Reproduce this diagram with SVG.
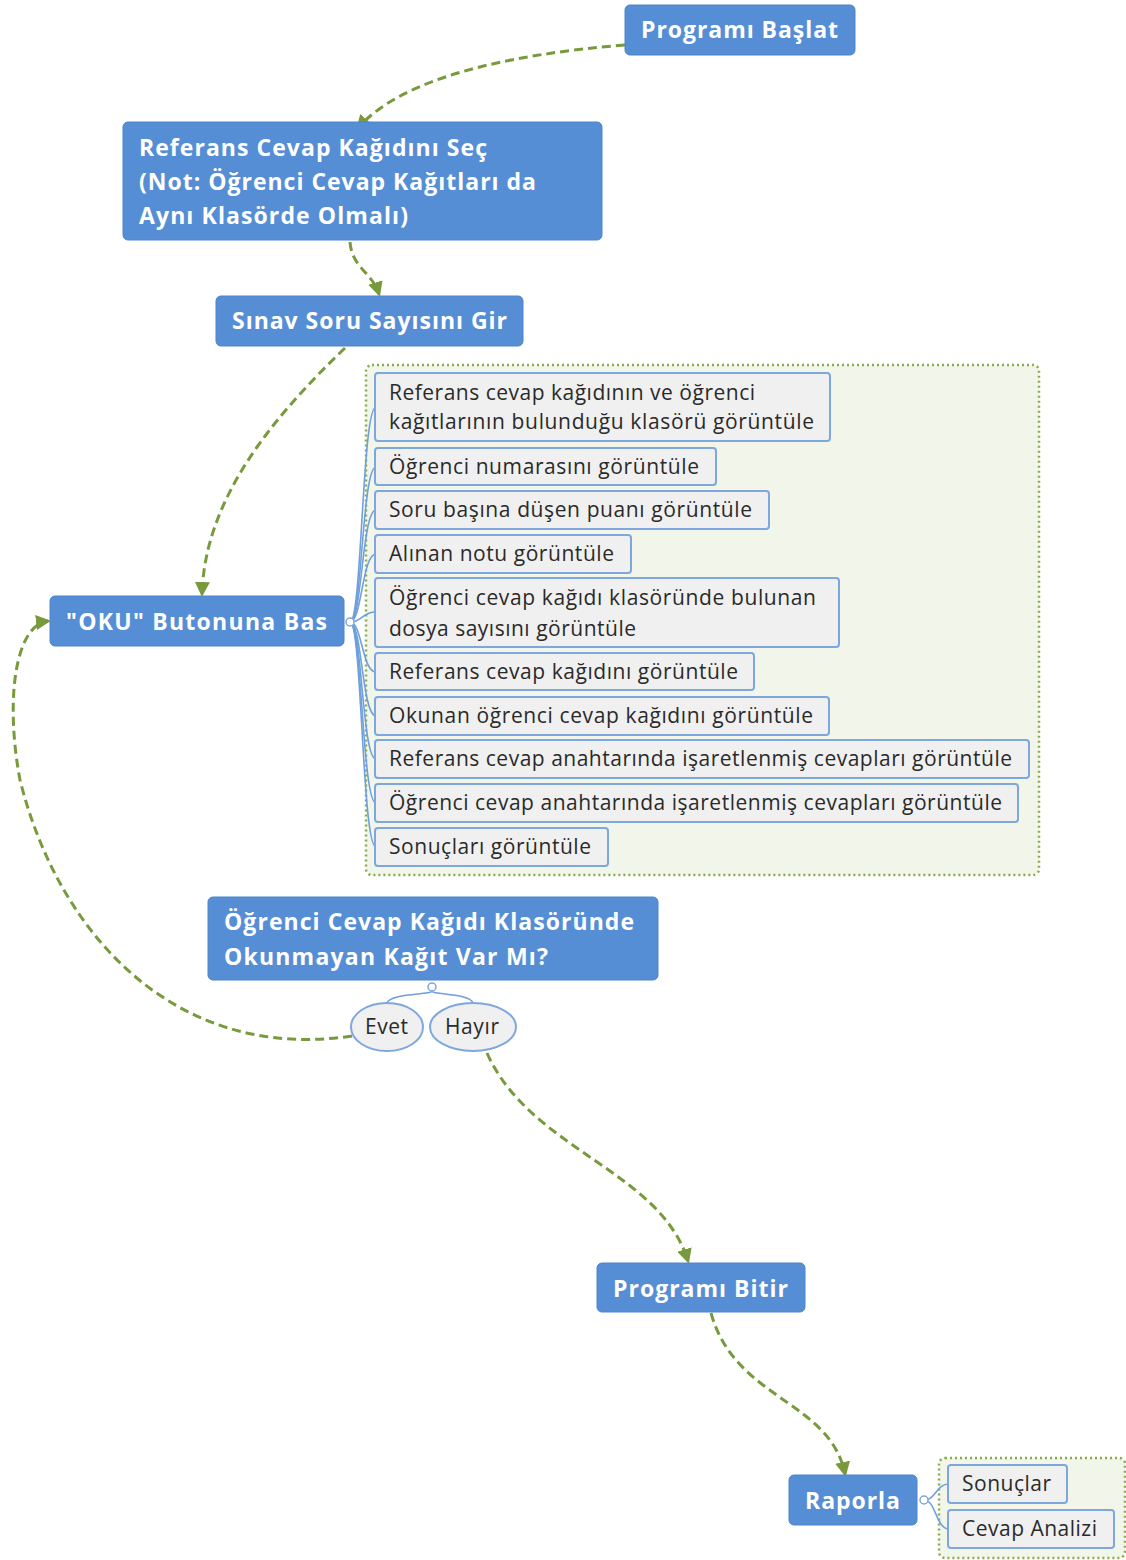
<svg xmlns="http://www.w3.org/2000/svg" width="1126" height="1560" viewBox="0 0 1126 1560">
<defs>
<style>
.main{fill:#568ed6;stroke:#4c84cc;stroke-width:1}
.mt{font-family:"Open Sans","Liberation Sans",sans-serif;font-weight:bold;font-size:23px;fill:#ffffff}
.sub{fill:#f0f0f0;stroke:#7ea7de;stroke-width:2}
.st{font-family:"Open Sans","Liberation Sans",sans-serif;font-size:21px;fill:#2a2a2a}
.box{fill:#f1f5ea;stroke:#8aab4c;stroke-width:2.5;stroke-dasharray:2,3}
.br{fill:none;stroke:#6f9fdc;stroke-width:1.6}
.con{fill:none;stroke:#789a3c;stroke-width:3;stroke-dasharray:9,5}
.knob{fill:#ffffff;stroke:#7ea7de;stroke-width:1.5}
</style>
<marker id="ah" viewBox="0 0 10 10" refX="8" refY="5" markerWidth="5" markerHeight="5" orient="auto" markerUnits="strokeWidth">
<path d="M0,0 L10,5 L0,10 z" fill="#789a3c"/>
</marker>
</defs>

<rect x="0" y="0" width="1126" height="1560" fill="#ffffff"/>

<g id="group-containers">
<rect class="box" x="366" y="365" width="673" height="510" rx="6"/>
<rect class="box" x="939" y="1458" width="186" height="100" rx="6"/>
</g>

<g id="branches">
<path class="br" d="M350,622 C362,622 362,407 376,407"/>
<path class="br" d="M350,622 C362,622 362,467 376,467"/>
<path class="br" d="M350,622 C362,622 362,510 376,510"/>
<path class="br" d="M350,622 C362,622 362,554 376,554"/>
<path class="br" d="M350,622 C362,622 362,612 376,612"/>
<path class="br" d="M350,622 C362,622 362,672 376,672"/>
<path class="br" d="M350,622 C362,622 362,716 376,716"/>
<path class="br" d="M350,622 C362,622 362,759 376,759"/>
<path class="br" d="M350,622 C362,622 362,803 376,803"/>
<path class="br" d="M350,622 C362,622 362,847 376,847"/>
<circle class="knob" cx="350" cy="622" r="4"/>
<path class="br" d="M432,991 C432,995 390,993 387,1003"/>
<path class="br" d="M432,991 C432,995 470,993 473,1003"/>
<circle class="knob" cx="432" cy="987" r="4"/>
<path class="br" d="M924,1500 C936,1500 936,1484 949,1484"/>
<path class="br" d="M924,1500 C936,1500 936,1529 949,1529"/>
<circle class="knob" cx="924" cy="1500" r="4"/>
</g>

<g id="connectors">
<path class="con" marker-end="url(#ah)" d="M625,45 C500,55 400,80 358,128"/>
<path class="con" marker-end="url(#ah)" d="M350,242 C352,268 372,272 379,294"/>
<path class="con" marker-end="url(#ah)" d="M345,348 C270,420 205,500 202,594"/>
<path class="con" marker-end="url(#ah)" d="M352,1036 C180,1062 60,940 20,780 C5,700 15,625 48,621"/>
<path class="con" marker-end="url(#ah)" d="M487,1053 C530,1150 660,1170 688,1261"/>
<path class="con" marker-end="url(#ah)" d="M711,1313 C735,1400 830,1400 845,1474"/>
</g>

<g id="node-start">
<rect class="main" x="625" y="5" width="230" height="50" rx="5"/>
<text class="mt" x="641" y="38" textLength="197" lengthAdjust="spacing">Programı Başlat</text>
</g>

<g id="node-referans">
<rect class="main" x="123" y="122" width="479" height="118" rx="5"/>
<text class="mt" x="139" y="156" textLength="348" lengthAdjust="spacing">Referans Cevap Kağıdını Seç</text>
<text class="mt" x="139" y="190" textLength="397" lengthAdjust="spacing">(Not: Öğrenci Cevap Kağıtları da</text>
<text class="mt" x="139" y="224" textLength="269" lengthAdjust="spacing">Aynı Klasörde Olmalı)</text>
</g>

<g id="node-sinav">
<rect class="main" x="216" y="296" width="307" height="50" rx="5"/>
<text class="mt" x="232" y="329" textLength="275" lengthAdjust="spacing">Sınav Soru Sayısını Gir</text>
</g>

<g id="node-oku">
<rect class="main" x="50" y="596" width="294" height="50" rx="5"/>
<text class="mt" x="66" y="630" textLength="261" lengthAdjust="spacing">"OKU" Butonuna Bas</text>
</g>

<g id="node-sub1">
<rect class="sub" x="375" y="373" width="455" height="68" rx="3"/>
<text class="st" x="389" y="400" textLength="366" lengthAdjust="spacing">Referans cevap kağıdının ve öğrenci</text>
<text class="st" x="389" y="429" textLength="425" lengthAdjust="spacing">kağıtlarının bulunduğu klasörü görüntüle</text>
</g>
<g id="node-sub2">
<rect class="sub" x="375" y="448" width="341" height="37" rx="3"/>
<text class="st" x="389" y="474" textLength="310" lengthAdjust="spacing">Öğrenci numarasını görüntüle</text>
</g>
<g id="node-sub3">
<rect class="sub" x="375" y="491" width="394" height="38" rx="3"/>
<text class="st" x="389" y="517" textLength="363" lengthAdjust="spacing">Soru başına düşen puanı görüntüle</text>
</g>
<g id="node-sub4">
<rect class="sub" x="375" y="535" width="256" height="38" rx="3"/>
<text class="st" x="389" y="561" textLength="225" lengthAdjust="spacing">Alınan notu görüntüle</text>
</g>
<g id="node-sub5">
<rect class="sub" x="375" y="578" width="464" height="69" rx="3"/>
<text class="st" x="389" y="605" textLength="427" lengthAdjust="spacing">Öğrenci cevap kağıdı klasöründe bulunan</text>
<text class="st" x="389" y="636" textLength="247" lengthAdjust="spacing">dosya sayısını görüntüle</text>
</g>
<g id="node-sub6">
<rect class="sub" x="375" y="653" width="379" height="37" rx="3"/>
<text class="st" x="389" y="679" textLength="349" lengthAdjust="spacing">Referans cevap kağıdını görüntüle</text>
</g>
<g id="node-sub7">
<rect class="sub" x="375" y="697" width="454" height="38" rx="3"/>
<text class="st" x="389" y="723" textLength="424" lengthAdjust="spacing">Okunan öğrenci cevap kağıdını görüntüle</text>
</g>
<g id="node-sub8">
<rect class="sub" x="375" y="740" width="654" height="38" rx="3"/>
<text class="st" x="389" y="766" textLength="623" lengthAdjust="spacing">Referans cevap anahtarında işaretlenmiş cevapları görüntüle</text>
</g>
<g id="node-sub9">
<rect class="sub" x="375" y="784" width="643" height="38" rx="3"/>
<text class="st" x="389" y="810" textLength="613" lengthAdjust="spacing">Öğrenci cevap anahtarında işaretlenmiş cevapları görüntüle</text>
</g>
<g id="node-sub10">
<rect class="sub" x="375" y="828" width="233" height="38" rx="3"/>
<text class="st" x="389" y="854" textLength="202" lengthAdjust="spacing">Sonuçları görüntüle</text>
</g>

<g id="node-decision">
<rect class="main" x="208" y="897" width="450" height="83" rx="5"/>
<text class="mt" x="224" y="930" textLength="410" lengthAdjust="spacing">Öğrenci Cevap Kağıdı Klasöründe</text>
<text class="mt" x="224" y="965" textLength="324" lengthAdjust="spacing">Okunmayan Kağıt Var Mı?</text>
</g>

<g id="node-evet">
<ellipse class="sub" cx="387" cy="1027" rx="36" ry="24"/>
<text class="st" x="365" y="1034" textLength="43" lengthAdjust="spacing">Evet</text>
</g>
<g id="node-hayir">
<ellipse class="sub" cx="473" cy="1027" rx="43" ry="24"/>
<text class="st" x="445" y="1034" textLength="54" lengthAdjust="spacing">Hayır</text>
</g>

<g id="node-bitir">
<rect class="main" x="597" y="1263" width="208" height="49" rx="5"/>
<text class="mt" x="613" y="1297" textLength="175" lengthAdjust="spacing">Programı Bitir</text>
</g>

<g id="node-raporla">
<rect class="main" x="789" y="1475" width="128" height="50" rx="5"/>
<text class="mt" x="805" y="1509" textLength="95" lengthAdjust="spacing">Raporla</text>
</g>

<g id="node-sonuclar">
<rect class="sub" x="948" y="1465" width="119" height="38" rx="3"/>
<text class="st" x="962" y="1491" textLength="89" lengthAdjust="spacing">Sonuçlar</text>
</g>
<g id="node-cevap-analizi">
<rect class="sub" x="948" y="1510" width="166" height="38" rx="3"/>
<text class="st" x="962" y="1536" textLength="135" lengthAdjust="spacing">Cevap Analizi</text>
</g>
</svg>
